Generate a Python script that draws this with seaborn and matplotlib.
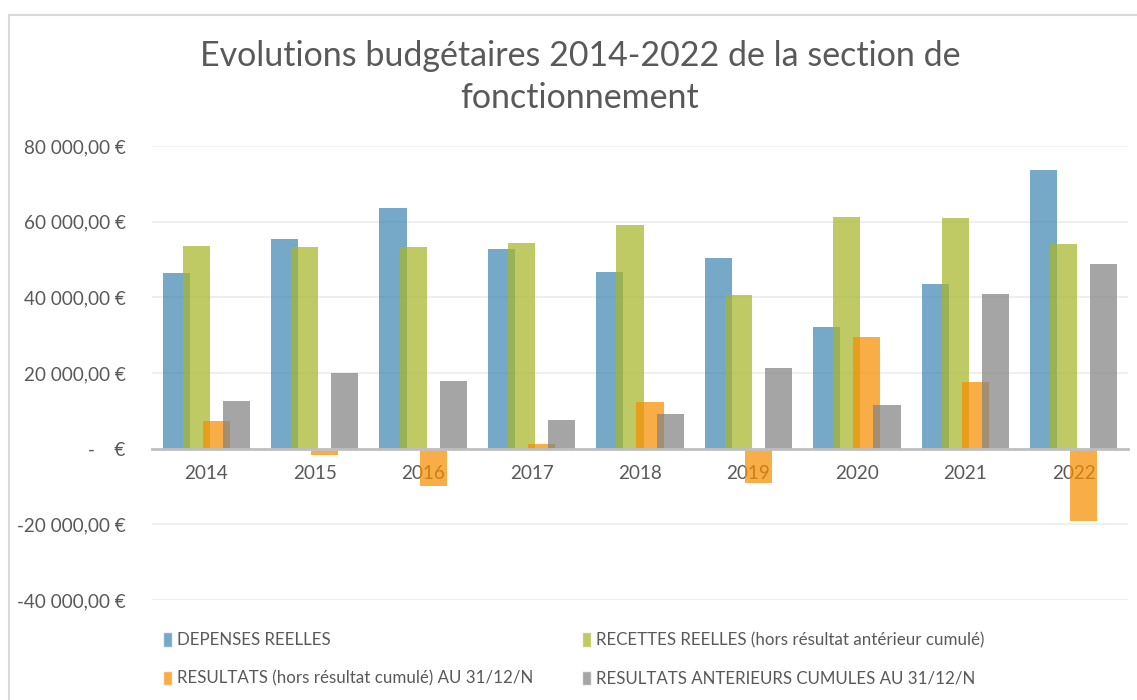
"""Evolutions budgetaires 2014-2022 - section de fonctionnement"""

import numpy as np
import pandas as pd
import matplotlib.pyplot as plt
import seaborn as sns
from matplotlib.patches import Patch
from matplotlib.lines import Line2D

# données
annees = ["2014", "2015", "2016", "2017", "2018", "2019", "2020", "2021", "2022"]
depenses = [46550, 55400, 63550, 52700, 46800, 50500, 32100, 43550, 73600]
recettes = [53600, 53250, 53250, 54300, 59000, 40700, 61250, 61000, 54100]
resultats = [7400, -1600, -9800, 1200, 12400, -9000, 29400, 17700, -19100]
anterieurs = [12700, 20000, 17900, 7500, 9200, 21300, 11600, 41000, 48850]

series = [
    ("DEPENSES REELLES", depenses, "#4088b2"),
    ("RECETTES REELLES (hors résultat antérieur cumulé)", recettes, "#a8b62a"),
    ("RESULTATS (hors résultat cumulé) AU 31/12/N", resultats, "#f78e00"),
    ("RESULTATS ANTERIEURS CUMULES AU 31/12/N", anterieurs, "#838383"),
]
y_ticks = [-40000, -20000, 0, 20000, 40000, 60000, 80000]
y_labels = ["-40 000,00 €", "-20 000,00 €", "-    €", "20 000,00 €",
            "40 000,00 €", "60 000,00 €", "80 000,00 €"]

sns.set_theme(style="white")
plt.rcParams["font.family"] = ["Lato", "DejaVu Sans"]
txt = "#595959"

fig = plt.figure(figsize=(11.37, 7.0), dpi=100)
ax = fig.add_axes([152 / 1137, 1 - 600 / 700, 976 / 1137, 454 / 700])

pos = np.arange(len(annees))
step = 0.185
alpha = 0.72
for i, (nom, vals, col) in enumerate(series):
    df = pd.DataFrame({"x": pos + (i - 1.5) * step, "y": vals})
    sns.barplot(data=df, x="x", y="y", native_scale=True, width=0.25,
                color=col, saturation=1, alpha=alpha, errorbar=None,
                linewidth=0, ax=ax)

ax.set_xlim(-0.5, len(annees) - 0.5)
ax.set_ylim(-40000, 80000)
ax.set_xticks(pos)
ax.set_xticklabels(annees)
ax.set_yticks(y_ticks)
ax.set_yticklabels(y_labels)
ax.set_xlabel("")
ax.set_ylabel("")
ax.tick_params(axis="both", length=0, labelsize=13.6, labelcolor=txt)
ax.tick_params(axis="y", pad=19)
ax.tick_params(axis="x", pad=12)
ax.yaxis.grid(True, color="#efefef", linewidth=1.4)
ax.set_axisbelow(True)
for s in ["top", "right", "left"]:
    ax.spines[s].set_visible(False)
ax.spines["bottom"].set_position(("data", 0))
ax.spines["bottom"].set_color("#bfbfbf")
ax.spines["bottom"].set_linewidth(2)
ax.spines["bottom"].set_zorder(5)

fig.suptitle("Evolutions budgétaires 2014-2022 de la section de\nfonctionnement",
             x=0.51, y=1 - 40 / 700, fontsize=24.5, color=txt, linespacing=1.4)

handles = [Patch(facecolor=c, alpha=alpha, label=n) for n, _, c in series]
order = [0, 2, 1, 3]
fig.legend(handles=[handles[k] for k in order],
           labels=[series[k][0] for k in order],
           ncol=2, loc="upper left", bbox_to_anchor=(148 / 1137, 1 - 617 / 700),
           frameon=False, fontsize=12.2, labelcolor=txt, handlelength=0.5,
           handleheight=0.9, handletextpad=0.3, labelspacing=1.3,
           columnspacing=2.9)

# cadre du graphique
fig.add_artist(Line2D([9 / 1137, 9 / 1137], [0, 1 - 15 / 700],
                      transform=fig.transFigure, color="#d9d9d9", linewidth=1.5))
fig.add_artist(Line2D([9 / 1137, 1], [1 - 15 / 700, 1 - 15 / 700],
                      transform=fig.transFigure, color="#d9d9d9", linewidth=1.5))

fig.savefig("out.png", dpi=100)
